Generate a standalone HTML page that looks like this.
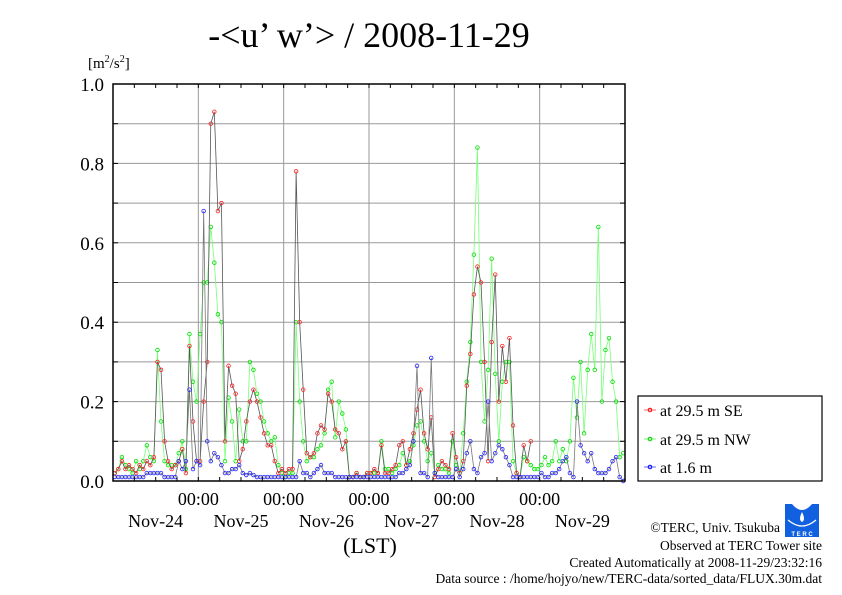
<!DOCTYPE html>
<html><head><meta charset="utf-8"><style>
body{margin:0;background:#fff;width:842px;height:595px;overflow:hidden;font-family:"Liberation Serif",serif}
svg{display:block}
</style></head><body>
<svg id="c" width="842" height="595" xmlns="http://www.w3.org/2000/svg" font-family="Liberation Serif, serif">
<text x="369" y="47" font-size="36" text-anchor="middle">-&lt;u’ w’&gt; / 2008-11-29</text>
<text x="88" y="68" font-size="15">[m<tspan font-size="10" dy="-6">2</tspan><tspan dy="6">/s</tspan><tspan font-size="10" dy="-6">2</tspan><tspan dy="6">]</tspan></text>
<g id="grid"></g>
<g id="series"></g>
<rect x="113" y="84" width="512" height="397" fill="none" stroke="#000" stroke-width="1.5"/>
<g id="axes"></g>
<text x="370" y="553" font-size="22" text-anchor="middle">(LST)</text>
<g>
<rect x="638" y="396" width="184" height="85" fill="#fff" stroke="#000" stroke-width="1.2"/>
<g><line x1="644" y1="410" x2="656" y2="410" stroke="#f66"/><circle cx="650" cy="410" r="1.8" fill="none" stroke="#f00"/><text x="660" y="416" font-size="16">at 29.5 m SE</text></g>
<g><line x1="644" y1="439" x2="656" y2="439" stroke="#6f6"/><circle cx="650" cy="439" r="1.8" fill="none" stroke="#0c0"/><text x="660" y="445" font-size="16">at 29.5 m NW</text></g>
<g><line x1="644" y1="467" x2="656" y2="467" stroke="#66f"/><circle cx="650" cy="467" r="1.8" fill="none" stroke="#00f"/><text x="660" y="473" font-size="16">at 1.6 m</text></g>
</g>
<g>
<rect x="785" y="504" width="34" height="33" fill="#1060e0"/>
<path d="M792 504 Q802 516 812 504 Z" fill="#fff"/>
<path d="M802 512 Q798 520 802 522 Q806 520 802 512Z" fill="#fff"/>
<path d="M788 520 Q802 532 816 520" fill="none" stroke="#fff" stroke-width="1.2"/>
<text x="802" y="536" font-size="6" fill="#fff" text-anchor="middle" font-family="Liberation Sans, sans-serif" font-weight="bold">T E R C</text>
</g>
<g font-size="13.5" text-anchor="end">
<text x="780" y="532">©TERC, Univ. Tsukuba</text>
<text x="822" y="550">Observed at TERC Tower site</text>
<text x="822" y="567">Created Automatically at 2008-11-29/23:32:16</text>
<text x="822" y="583">Data source : /home/hojyo/new/TERC-data/sorted_data/FLUX.30m.dat</text>
</g>
</svg>
<script>
const dayLabels=["Nov-24","Nov-25","Nov-26","Nov-27","Nov-28","Nov-29"];
const yTicks=[0.0,0.2,0.4,0.6,0.8,1.0];
const seValues=[0.02,0.03,0.05,0.03,0.04,0.03,0.02,0.04,0.03,0.05,0.04,0.06,0.3,0.28,0.1,0.05,0.03,0.04,0.05,0.08,0.02,0.34,0.15,0.05,
0.05,0.2,0.3,0.9,0.93,0.68,0.7,0.1,0.29,0.24,0.22,0.05,0.08,0.15,0.2,0.23,0.2,0.16,0.12,0.09,0.09,0.05,0.02,0.03,
0.02,0.03,0.03,0.78,0.4,0.23,0.07,0.06,0.07,0.12,0.14,0.13,0.22,0.2,0.13,0.12,0.08,0.1,0.01,0.01,0.02,0.01,0.01,0.02,
0.02,0.03,0.02,0.09,0.02,0.02,0.03,0.04,0.09,0.1,0.04,0.08,0.12,0.18,0.23,0.12,0.08,0.16,0.01,0.03,0.05,0.04,0.03,0.12,
0.06,0.02,0.05,0.24,0.32,0.47,0.54,0.5,0.3,0.05,0.35,0.52,0.2,0.34,0.25,0.36,0.14,0.02,0.01,0.09,0.05,0.1,null,null,
null,null,null,null,null,null,null,null,null,null,null,null,null,null,null,null,null,null,null,null,null,null,null,null];
const nwValues=[0.02,0.03,0.06,0.04,0.03,0.02,0.05,0.03,0.05,0.09,0.06,0.05,0.33,0.15,0.05,0.04,0.04,0.04,0.07,0.1,0.03,0.37,0.25,0.2,
0.37,0.5,0.5,0.64,0.55,0.42,0.4,0.05,0.21,0.15,0.05,0.18,0.1,0.1,0.3,0.28,0.22,0.2,0.15,0.12,0.1,0.11,0.04,0.02,
0.01,0.02,0.02,0.4,0.2,0.1,0.05,0.06,0.06,0.08,0.09,0.12,0.23,0.25,0.11,0.2,0.17,0.13,0.01,0.01,0.02,0.01,0.01,0.02,
0.02,0.02,0.02,0.1,0.03,0.03,0.02,0.03,0.04,0.07,0.04,0.05,0.09,0.14,0.15,0.1,0.05,0.07,0.02,0.04,0.03,0.03,0.02,0.1,
0.04,0.02,0.12,0.25,0.35,0.57,0.84,0.3,0.15,0.28,0.56,0.27,0.1,0.25,0.3,0.3,0.05,0.02,0.01,0.06,0.05,0.04,0.03,0.03,
0.04,0.06,0.04,0.05,0.1,0.05,0.08,0.05,0.1,0.26,0.16,0.3,0.12,0.28,0.37,0.28,0.64,0.2,0.33,0.36,0.25,0.2,0.06,0.07];
const nearGroundValues=[0.01,0.01,0.01,0.01,0.01,0.01,0.01,0.01,0.01,0.02,0.02,0.02,0.02,0.02,0.01,0.01,0.01,0.01,0.05,0.03,0.05,0.23,0.03,0.05,
0.04,0.68,0.1,0.05,0.07,0.06,0.04,0.02,0.02,0.03,0.03,0.04,0.02,0.015,0.02,0.015,0.01,0.01,0.01,0.01,0.01,0.01,0.01,0.01,
0.01,0.01,0.01,0.01,0.05,0.02,0.02,0.01,0.02,0.03,0.04,0.02,0.02,0.02,0.01,0.01,0.01,0.01,0.01,0.01,0.01,0.01,0.01,0.01,
0.01,0.01,0.01,0.01,0.01,0.01,0.01,0.01,0.02,0.02,0.03,0.04,0.1,0.29,0.02,0.02,0.01,0.31,0.02,0.01,0.01,0.01,0.01,0.01,
0.03,0.01,0.03,0.07,0.1,0.03,0.02,0.06,0.07,0.2,0.05,0.07,0.09,0.08,0.06,0.04,0.01,0.01,0.01,0.01,0.01,0.01,0.01,0.01,
0.02,0.01,0.01,0.02,0.02,0.03,0.05,0.06,0.02,0.01,0.2,0.09,0.07,0.05,0.07,0.03,0.02,0.02,0.02,0.03,0.05,0.06,0.01,0.0];
const NS="http://www.w3.org/2000/svg";
const X0=113,X1=625,Y0=481,Y1=84,HOURS=144;
const xScale=h=>X0+(h+0.5)*(X1-X0)/HOURS;
const dayX=d=>X0+d*(X1-X0)/6;
const yScale=v=>Y0-v*(Y0-Y1);
function mk(tag,attrs,parent){const e=document.createElementNS(NS,tag);for(const k in attrs)e.setAttribute(k,attrs[k]);parent.appendChild(e);return e;}
const grid=document.getElementById('grid'),axes=document.getElementById('axes'),ser=document.getElementById('series');
for(let i=1;i<10;i++){const l=mk('line',{x1:X0,x2:X1,y1:yScale(i/10),y2:yScale(i/10),stroke:'#999','stroke-width':1},grid);

}
for(let d=1;d<6;d++){const l=mk('line',{x1:dayX(d),x2:dayX(d),y1:Y1,y2:Y0,stroke:'#999','stroke-width':1},grid);

}
for(let t=0;t<=24;t++){const x=X0+t*(X1-X0)/24;
const a=mk('line',{x1:x,x2:x,y1:Y0,y2:Y0-4,stroke:'#000'},axes);


const b=mk('line',{x1:x,x2:x,y1:Y1,y2:Y1+4,stroke:'#000'},axes);

}
for(let i=0;i<=10;i++){const y=yScale(i/10);
const a=mk('line',{x1:X0,x2:X0+5,y1:y,y2:y,stroke:'#000'},axes);


const b=mk('line',{x1:X1-5,x2:X1,y1:y,y2:y,stroke:'#000'},axes);

}
yTicks.forEach(v=>{const t=mk('text',{x:104,y:yScale(v)+7,'font-size':19,'text-anchor':'end'},axes);t.textContent=v.toFixed(1);

});
for(let d=1;d<6;d++){const t=mk('text',{x:dayX(d),y:505,'font-size':18,'text-anchor':'middle'},axes);t.textContent='00:00';

}
dayLabels.forEach((s,d)=>{const t=mk('text',{x:(dayX(d)+dayX(d+1))/2,y:527,'font-size':18,'text-anchor':'middle'},axes);t.textContent=s;

});
function drawSeries(vals,lineC,markC,name){
 const g=mk('g',{},ser);
 
 
 let d='',pen=false;
 vals.forEach((v,i)=>{if(v==null){pen=false;return;}d+=(pen?'L':'M')+xScale(i).toFixed(2)+' '+yScale(v).toFixed(2);pen=true;});
 const p=mk('path',{d:d,fill:'none',stroke:lineC,'stroke-width':0.8},g);
 
 
 vals.forEach((v,i)=>{if(v==null)return;const c=mk('circle',{cx:xScale(i),cy:yScale(v),r:1.8,fill:'none',stroke:markC,'stroke-width':0.8},g);
 
 });
}
drawSeries(nwValues,'#7f7','#0d0','series-nw');
drawSeries(seValues,'#555','#f22','series-se');
drawSeries(nearGroundValues,'#777','#22f','series-1m');
</script>
</body></html>
